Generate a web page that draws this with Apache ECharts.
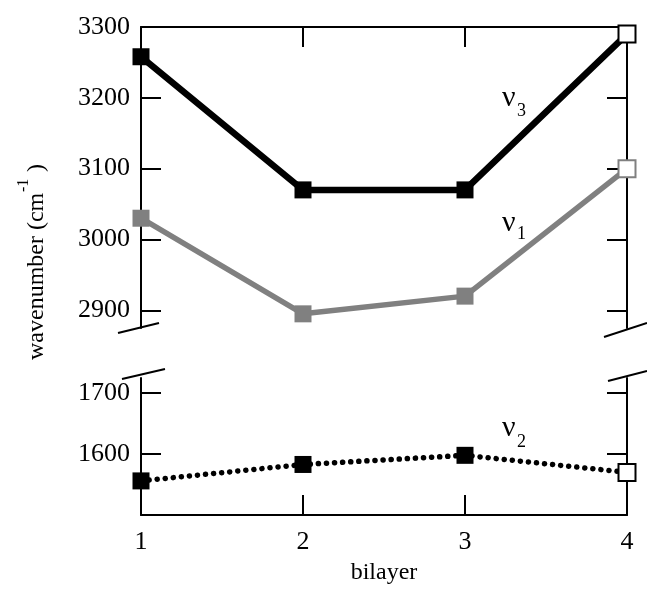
<!DOCTYPE html>
<html><head><meta charset="utf-8">
<script src="https://cdn.jsdelivr.net/npm/echarts@6/dist/echarts.min.js"></script>
<style>html,body{margin:0;padding:0;background:#fff}#c{width:647px;height:594px}</style>
</head><body><div id="c"></div>
<script>
// ---- data ----
const bilayers = [1, 2, 3, 4];
const nu3 = [3258, 3070, 3070, 3290];
const nu1 = [3030, 2895, 2920, 3100];
const nu2 = [1556, 1583, 1598, 1570];
const upperTicks = [2900, 3000, 3100, 3200, 3300];
const lowerTicks = [1600, 1700];
const xTicks = [1, 2, 3, 4];
const upperRange = [2875, 3300];
const lowerRange = [1500, 1725];
// the last bilayer is drawn with an open marker
const openIndex = 3;

const FONT = "'Liberation Serif','Times New Roman',serif";
const chart = echarts.init(document.getElementById('c'), null, {renderer: 'canvas'});

function pts(vals, edge) {
  return vals.map((v, i) => {
    const p = {value: [bilayers[i], v]};
    if (i === openIndex) p.itemStyle = {color: '#fff', borderColor: edge, borderWidth: 2};
    return p;
  });
}
const axLine = {show: true, onZero: false, lineStyle: {color: '#000', width: 2}};
const axTick = (vals) => ({show: true, inside: true, length: 20, lineStyle: {color: '#000', width: 2}, customValues: vals});
const plain = (v) => String(v);

function yAx(grid, range, ticks, pos, labels) {
  return {
    type: 'value', gridIndex: grid, min: range[0], max: range[1], position: pos,
    axisLine: axLine, axisTick: axTick(ticks), splitLine: {show: false},
    axisLabel: labels ? {show: true, customValues: ticks, formatter: plain, fontFamily: FONT, fontSize: 26, color: '#000', margin: 11} : {show: false}
  };
}
function xAx(grid, pos, labels) {
  const a = {
    type: 'value', gridIndex: grid, min: xTicks[0], max: xTicks[xTicks.length - 1], interval: 1, position: pos,
    axisLine: axLine, axisTick: axTick(xTicks), splitLine: {show: false},
    axisLabel: labels ? {show: true, customValues: xTicks, formatter: plain, fontFamily: FONT, fontSize: 26, color: '#000', margin: 14} : {show: false}
  };
  if (labels) {
    a.name = 'bilayer'; a.nameLocation = 'middle'; a.nameGap = 46;
    a.nameTextStyle = {fontFamily: FONT, fontSize: 24, color: '#000'};
  }
  return a;
}
const brk = (x1, y1, x2, y2) => ({type: 'line', shape: {x1, y1, x2, y2}, style: {stroke: '#000', lineWidth: 2}, z: 100});
const txt = (x, y, text, size, extra) => ({type: 'text', x, y, z: 100, style: Object.assign({text, fontFamily: FONT, fontSize: size, fill: '#000', verticalAlign: 'bottom'}, extra || {})});

chart.setOption({
  animation: false,
  backgroundColor: '#fff',
  grid: [
    {left: 141, top: 27, width: 486, height: 301},
    {left: 141, top: 378, width: 486, height: 137}
  ],
  xAxis: [xAx(0, 'top', false), xAx(1, 'bottom', true)],
  yAxis: [
    yAx(0, upperRange, upperTicks, 'left', true),
    yAx(0, upperRange, upperTicks, 'right', false),
    yAx(1, lowerRange, lowerTicks, 'left', true),
    yAx(1, lowerRange, lowerTicks, 'right', false)
  ],
  series: [
    {type: 'line', name: 'nu3', xAxisIndex: 0, yAxisIndex: 0, data: pts(nu3, '#000'), clip: false,
     symbol: 'rect', symbolSize: 17, color: '#000', lineStyle: {color: '#000', width: 6.5}, itemStyle: {color: '#000'}},
    {type: 'line', name: 'nu1', xAxisIndex: 0, yAxisIndex: 0, data: pts(nu1, '#808080'), clip: false,
     symbol: 'rect', symbolSize: 17, color: '#808080', lineStyle: {color: '#808080', width: 5.5}, itemStyle: {color: '#808080'}},
    {type: 'line', name: 'nu2', xAxisIndex: 1, yAxisIndex: 2, data: pts(nu2, '#000'), clip: false,
     symbol: 'rect', symbolSize: 17, color: '#000', lineStyle: {color: '#000', width: 5.5, type: [0.1, 8], cap: 'round'}, itemStyle: {color: '#000'}}
  ],
  graphic: [
    brk(118, 333, 159, 323), brk(122, 379, 165, 369),
    brk(604, 337, 647, 323), brk(608, 381, 647, 371),
    txt(502, 113, 'ν', 30), txt(517, 120, '3', 18),
    txt(502, 238, 'ν', 30), txt(517, 243, '1', 18),
    txt(502, 443, 'ν', 30), txt(517, 451, '2', 18),
    {type: 'group', x: 37, y: 360, rotation: Math.PI / 2, children: [
      {type: 'text', x: 0, y: 0, style: {text: 'wavenumber (cm', fontFamily: FONT, fontSize: 24, fill: '#000', align: 'left', verticalAlign: 'middle'}},
      {type: 'text', x: 168, y: -13, style: {text: '-1', fontFamily: FONT, fontSize: 16, fill: '#000', align: 'left', verticalAlign: 'middle'}},
      {type: 'text', x: 188, y: 0, style: {text: ')', fontFamily: FONT, fontSize: 24, fill: '#000', align: 'left', verticalAlign: 'middle'}}
    ]}
  ]
});
</script></body></html>
